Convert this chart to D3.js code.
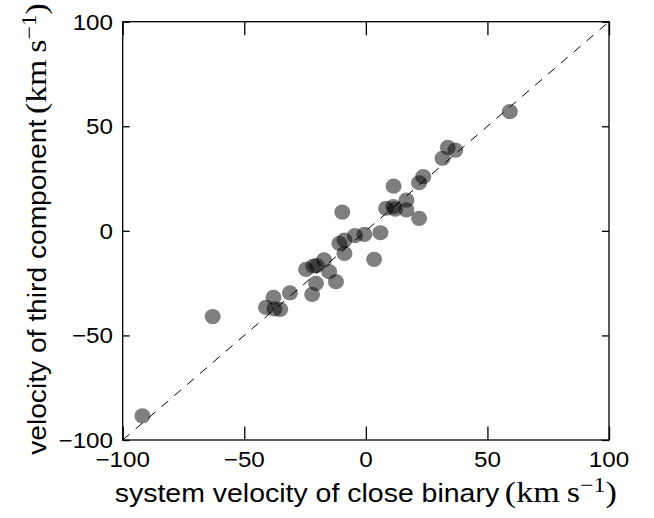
<!DOCTYPE html>
<html>
<head>
<meta charset="utf-8">
<script src="https://cdn.jsdelivr.net/npm/d3@7"></script>
<style>
  body { margin: 0; background: #fff; }
  text { font-family: "Liberation Sans", Arial, sans-serif; fill: #000; }
  .math { font-family: "Liberation Serif", "DejaVu Serif", serif; }
</style>
</head>
<body>
<script>
// system velocity of the close binary (km/s)
var systemVel = [-91.9, -63.0, -41.1, -37.6, -35.2, -38.0, -31.2, -22.1, -20.5, -12.3,
                 -15.1, -24.6, -21.6, -20.2, -17.2, -10.9, -8.8, -8.8, -4.5, -0.6,
                 6.0, 3.4, -9.7, 8.3, 11.3, 12.0, 11.4, 16.7, 16.7, 21.9,
                 21.9, 23.6, 31.5, 33.7, 36.8, 59.2];
// velocity of the third component (km/s)
var thirdVel = [-88.5, -41.0, -36.6, -37.3, -37.5, -31.8, -29.6, -30.4, -25.1, -24.3,
                -19.5, -18.4, -16.8, -16.6, -13.9, -6.0, -4.4, -10.8, -2.3, -1.7,
                -0.9, -13.6, 9.0, 10.8, 11.6, 10.4, 21.4, 14.7, 10.0, 6.0,
                23.0, 25.9, 34.7, 39.9, 38.6, 57.0];
var tickValues = [-100, -50, 0, 50, 100];
var oneToOne = [-100, 100];

var width = 654, height = 518;
var plot = {left: 122.7, right: 609, top: 21.7, bottom: 440};

var svg = d3.select("body").append("svg")
  .attr("width", width)
  .attr("height", height);

var x = d3.scaleLinear().domain([-100, 100]).range([plot.left, plot.right]);
var y = d3.scaleLinear().domain([-100, 100]).range([plot.bottom, plot.top]);

var data = systemVel.map(function(v, i) { return {sys: v, third: thirdVel[i]}; });

// dashed 1:1 line
svg.append("line")
  .attr("x1", x(oneToOne[0])).attr("y1", y(oneToOne[0]))
  .attr("x2", x(oneToOne[1])).attr("y2", y(oneToOne[1]))
  .attr("stroke", "#000")
  .attr("stroke-width", 1)
  .attr("stroke-dasharray", "9,8");

// points
svg.append("g")
  .selectAll("ellipse")
  .data(data)
  .enter()
  .append("ellipse")
    .attr("cx", d => x(d.sys))
    .attr("cy", d => y(d.third))
    .attr("rx", 8)
    .attr("ry", 7.6)
    .attr("fill", "#000")
    .attr("fill-opacity", 0.5);

// ticks on all four sides, pointing inward
var xTickLen = 13.5, yTickLen = 7;
function drawAxis(axis, transform) {
  var g = svg.append("g").attr("transform", transform).call(axis);
  g.select(".domain").remove();
  g.selectAll(".tick line").attr("stroke", "#000").attr("stroke-width", 1.3);
  g.selectAll(".tick text").remove();
  return g;
}
drawAxis(d3.axisBottom(x).tickValues(tickValues).tickSize(-xTickLen), "translate(0," + plot.bottom + ")");
drawAxis(d3.axisTop(x).tickValues(tickValues).tickSize(-xTickLen), "translate(0," + plot.top + ")");
drawAxis(d3.axisLeft(y).tickValues(tickValues).tickSize(-yTickLen), "translate(" + plot.left + ",0)");
drawAxis(d3.axisRight(y).tickValues(tickValues).tickSize(-yTickLen), "translate(" + plot.right + ",0)");

// frame
svg.append("rect")
  .attr("x", plot.left).attr("y", plot.top)
  .attr("width", plot.right - plot.left)
  .attr("height", plot.bottom - plot.top)
  .attr("fill", "none")
  .attr("stroke", "#000")
  .attr("stroke-width", 1.3);

function fmt(v) { return v < 0 ? "\u2212" + Math.abs(v) : String(v); }

// tick labels
var tickFont = 22, tickStretch = 1.1;
svg.append("g").selectAll("text")
  .data(tickValues).enter().append("text")
    .attr("transform", d => "translate(" + x(d) + ",467) scale(" + tickStretch + ",1)")
    .attr("text-anchor", "middle")
    .attr("font-size", tickFont)
    .text(fmt);

svg.append("g").selectAll("text")
  .data(tickValues).enter().append("text")
    .attr("transform", d => "translate(113," + (y(d) + 8) + ") scale(" + tickStretch + ",1)")
    .attr("text-anchor", "end")
    .attr("font-size", tickFont)
    .text(fmt);

// axis labels, stretched along the text to fill the span seen in the picture
function unitLabel(t) {
  t.append("tspan").text("\u2009");
  var m = t.append("tspan").attr("class", "math").attr("font-size", "1.2em");
  m.append("tspan").text("(km\u2009s");
  m.append("tspan").attr("font-size", "0.7em").attr("dy", -10).text("\u22121");
  m.append("tspan").attr("dy", 10).text(")");
}
function fitLabel(t, span) {
  var len = t.node().getComputedTextLength();
  return span / len;
}

var labelFont = 25;
var xl = svg.append("text")
  .attr("text-anchor", "middle")
  .attr("font-size", labelFont);
xl.append("tspan").text("system velocity of close binary");
unitLabel(xl);
var sx = fitLabel(xl, 617 - 114.6);
xl.attr("transform", "translate(" + ((114.6 + 617) / 2) + ",502) scale(" + sx + ",1)");

var yl = svg.append("text")
  .attr("text-anchor", "middle")
  .attr("font-size", labelFont);
yl.append("tspan").text("velocity of third component");
unitLabel(yl);
var sy = fitLabel(yl, 455 - 3);
yl.attr("transform", "translate(46," + ((455 + 3) / 2) + ") rotate(-90) scale(" + sy + ",1)");
</script>
</body>
</html>
